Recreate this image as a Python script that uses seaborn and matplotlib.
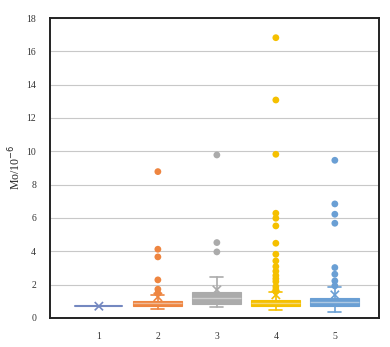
import pandas as pd
import matplotlib.pyplot as plt
import seaborn as sns

groups = ["1", "2", "3", "4", "5"]
colors = ["#7488C0", "#EE8540", "#ABABAB", "#F5C000", "#6A9FD4"]
q1 = [0.70, 0.74, 0.84, 0.74, 0.74]
med = [0.70, 0.88, 1.20, 0.90, 0.95]
q3 = [0.70, 1.04, 1.54, 1.08, 1.18]
whis_lo = [0.70, 0.54, 0.64, 0.48, 0.38]
whis_hi = [0.70, 1.40, 2.46, 1.55, 1.84]
means = [0.70, 1.26, 1.68, 1.38, 1.38]

out_2 = [8.78, 4.12, 3.66, 2.28, 1.72, 1.48]
out_3 = [9.78, 4.52, 3.96]
out_4 = [16.82, 13.08, 9.82, 6.28, 5.98, 5.52, 4.48, 3.82, 3.42, 3.08,
         2.80, 2.54, 2.35, 2.18, 1.88, 1.70, 1.58]
out_5 = [9.46, 6.84, 6.22, 5.68, 3.02, 2.62, 2.22, 1.92]
outliers = [[], out_2, out_3, out_4, out_5]

sns.set_style("white")
plt.rcParams["font.family"] = ["Liberation Serif", "DejaVu Serif"]

fig = plt.figure(figsize=(3.9, 3.47), dpi=100)
ax = fig.add_axes([0.128, 0.084, 0.844, 0.864])

stats = []
for i, g in enumerate(groups):
    stats.append({"label": g, "q1": q1[i], "med": med[i], "q3": q3[i],
                  "whislo": whis_lo[i], "whishi": whis_hi[i], "fliers": []})

for i, s in enumerate(stats):
    c = colors[i]
    if i == 0:
        # single value: Excel shows only a line
        ax.plot([i - 0.4, i + 0.4], [s["med"], s["med"]], color=c, lw=1.5, zorder=3)
        continue
    ax.bxp([s], positions=[i], widths=0.83, showfliers=False, patch_artist=True,
           boxprops=dict(facecolor=c, edgecolor=c, lw=0.8),
           whiskerprops=dict(color=c, lw=1.2),
           capprops=dict(color=c, lw=1.2),
           medianprops=dict(color=sns.light_palette(c, 3)[1], lw=1.0),
           capwidths=0.22, manage_ticks=False)

rows = []
for i, g in enumerate(groups):
    for v in outliers[i]:
        rows.append({"pos": i, "val": v, "grp": g})
df_out = pd.DataFrame(rows)
sns.scatterplot(data=df_out, x="pos", y="val", hue="grp", palette=colors[1:],
                s=24, edgecolor="none", legend=False, ax=ax, zorder=4)

df_mean = pd.DataFrame({"pos": range(len(groups)), "val": means, "grp": groups})
sns.scatterplot(data=df_mean, x="pos", y="val", hue="grp", palette=colors,
                marker="x", s=36, linewidth=1.2, legend=False, ax=ax, zorder=5)

ax.set_xlim(-0.83, 4.75)
ax.set_ylim(0, 18)
ax.set_yticks(range(0, 19, 2))
ax.set_xticks(range(len(groups)))
ax.set_xticklabels(groups)
ax.yaxis.grid(True, color="#c8c8c8", lw=0.8)
ax.set_axisbelow(True)
ax.tick_params(axis="both", labelsize=7, length=0, pad=10, colors="#333333")
for sp in ax.spines.values():
    sp.set_color("#222222")
    sp.set_linewidth(1.4)
ax.set_xlabel("")
ax.set_ylabel("Mo/10$^{-6}$", fontsize=8.5, labelpad=2)

fig.savefig("out.png", dpi=100)
